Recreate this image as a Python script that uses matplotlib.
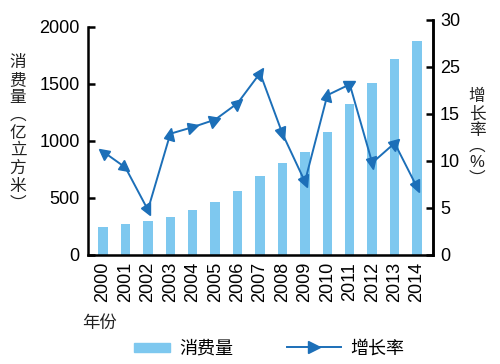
import numpy as np
import matplotlib
matplotlib.use('Agg')
import matplotlib.pyplot as plt
import matplotlib.patches as mpatches
from matplotlib.lines import Line2D
from matplotlib.markers import MarkerStyle
from matplotlib.transforms import Affine2D
from matplotlib.legend_handler import HandlerPatch

plt.rcParams['font.family'] = ['Liberation Sans', 'Noto Sans CJK SC']

# data
years = ['2000', '2001', '2002', '2003', '2004', '2005', '2006', '2007',
         '2008', '2009', '2010', '2011', '2012', '2013', '2014']
consumption = [245, 272, 298, 333, 395, 465, 561, 693, 807, 903, 1079, 1325, 1509, 1719, 1877]
growth = [11.0, 9.3, 4.8, 12.9, 13.6, 14.4, 17.3, 23.7, 12.9, 7.8, 19.0, 21.3, 9.8, 11.9, 7.2]
volume_ticks = [0, 500, 1000, 1500, 2000]
rate_ticks = [0, 5, 10, 15, 25, 30]   # the original axis skips 20

bar_color = '#7EC8EF'
line_color = '#1C6FB8'


# right axis is evenly spaced per tick, so 15->25 takes one step
def fwd(v):
    return np.interp(v, [0, 15, 25, 30], [0, 15, 20, 25])


def inv(v):
    return np.interp(v, [0, 15, 20, 25], [0, 15, 25, 30])


fig = plt.figure(figsize=(5, 3.64), dpi=100)
ax = fig.add_axes([0.176, 0.2995, 0.69, 0.6456])
x = np.arange(len(years))
ax.bar(x, consumption, width=0.42, color=bar_color)
ax.set_xlim(-0.67, 14.71)
ax.set_ylim(0, 2061)
ax.set_yticks(volume_ticks)
ax.set_xticks(x, years, rotation=90)
ax.spines['top'].set_visible(False)
ax.spines['left'].set_bounds(0, 2000)
for s in ['left', 'bottom', 'right']:
    ax.spines[s].set_linewidth(1.8)
ax.tick_params(axis='y', direction='in', length=5, width=1.8, labelsize=13, pad=6)
ax.tick_params(axis='x', length=0, labelsize=13, pad=5)

ax2 = ax.twinx()
ax2.set_yscale('function', functions=(fwd, inv))
ax2.set_ylim(0, 30)
ax2.set_yticks(rate_ticks, [str(t) for t in rate_ticks])
ax2.yaxis.set_minor_locator(matplotlib.ticker.NullLocator())
ax2.spines['top'].set_visible(False)
ax2.spines['left'].set_visible(False)
ax2.spines['right'].set_linewidth(1.8)
ax2.tick_params(axis='y', direction='in', length=5, width=1.8, labelsize=13, pad=5)

ax2.plot(x, growth, color=line_color, lw=1.4)
# arrow-like triangles turned along the line
pts = ax2.transData.transform(np.column_stack([x, growth]))
for i in range(len(x)):
    if i == 0:
        d = pts[0] - pts[1]
    else:
        d = pts[i] - pts[i - 1]
    ang = np.degrees(np.arctan2(d[1], d[0]))
    ms = MarkerStyle('>', transform=Affine2D().rotate_deg(ang).scale(1.0, 1.15))
    ax2.plot(x[i], growth[i], marker=ms, markersize=7.5, color=line_color, ls='none')

fig.text(0.036, 0.634, '\n'.join('消费量︵亿立方米︶'), ha='center', va='center',
         fontsize=12, linespacing=1.22, color='#222222')
fig.text(0.954, 0.621, '\n'.join('增长率︵%︶'), ha='center', va='center',
         fontsize=12, linespacing=1.12, color='#222222')
fig.text(0.164, 0.113, '年份', ha='left', va='center', fontsize=12.5, color='#222222')


def bar_patch(legend, orig_handle, xdescent, ydescent, width, height, fontsize):
    w = width * 0.66
    return mpatches.Rectangle((-xdescent + width - w, -ydescent + height * 0.15), w, height * 0.7)


handles = [mpatches.Patch(color=bar_color),
           Line2D([], [], color=line_color, lw=1.4, marker='>', markersize=8)]
fig.legend(handles, ['消费量', '增长率'], loc='center', bbox_to_anchor=(0.52, 0.041),
           ncol=2, frameon=False, fontsize=13, handlelength=3.0, columnspacing=3.0,
           handletextpad=0.5, handler_map={mpatches.Patch: HandlerPatch(patch_func=bar_patch)})

fig.savefig('out.png', dpi=100)
